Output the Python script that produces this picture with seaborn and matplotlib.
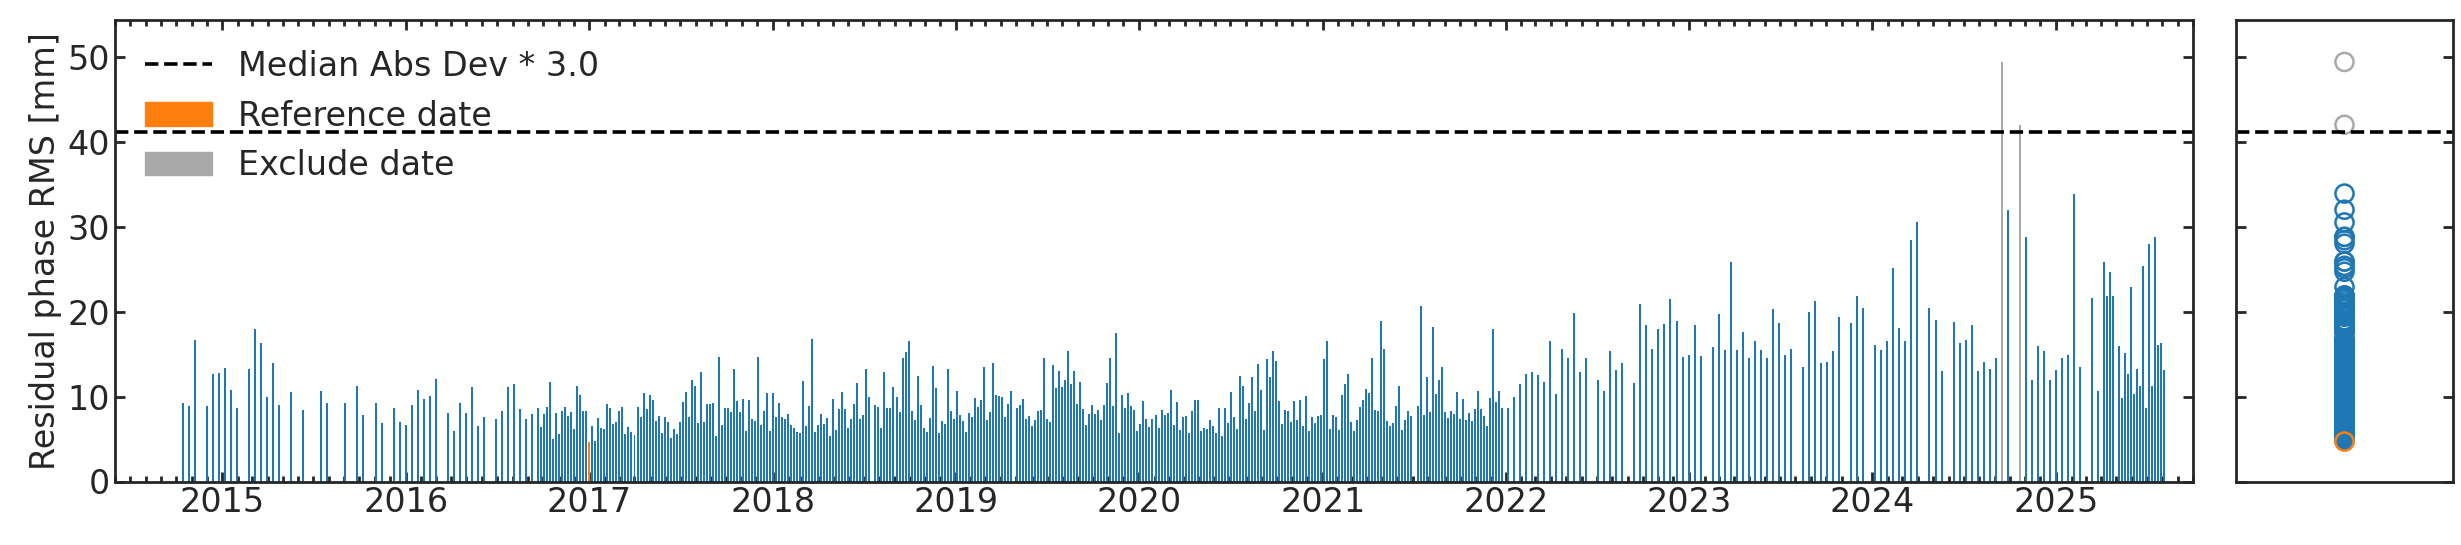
import numpy as np
import pandas as pd
import seaborn as sns
import matplotlib
matplotlib.use("Agg")
import matplotlib.pyplot as plt
import matplotlib.dates as mdates
from matplotlib.lines import Line2D
from matplotlib.patches import Patch

# acquisitions are counted in 6-day repeat cycles from the first date
first_date = "2014-10-14"
ref_date = "2017-01-01"
threshold = 41.2  # median abs dev * 3.0 cutoff [mm]

# S1A only, 12/24-day sampling
early_cycle = [0, 2, 4, 8, 10, 12, 14, 16, 18, 22, 24, 26, 28, 30, 32, 36, 40, 46, 48, 54,
               58, 60, 64, 66, 70, 72, 74, 76, 78, 80, 82, 84, 88, 90, 92, 94, 96, 98, 100, 104,
               106, 108, 110, 112, 114, 116, 118]
early_rms = [9.2, 8.9, 16.7, 8.9, 12.6, 12.8, 13.4, 10.8, 8.6, 13.3, 18.0, 16.3, 9.9, 13.9, 9.0, 10.5,
             8.4, 10.6, 9.2, 9.3, 11.3, 7.8, 9.2, 6.9, 8.6, 7.0, 6.7, 9.0, 10.8, 9.7, 10.1, 12.1,
             8.1, 6.0, 9.2, 8.1, 11.1, 6.5, 7.6, 7.4, 8.3, 11.1, 11.5, 8.5, 7.4, 7.9, 8.6]

# S1A + S1B, one acquisition per cycle starting at cycle 119 (None = missing)
dense_start = 119
dense_rms = [
    6.4, 8.0, 8.8, 11.7, 5.0, 8.1, 5.6, 8.3, 8.8, 7.7, 8.2, 6.2, 11.2, 10.2, 8.3, 8.3, 4.7, 6.5,
    4.8, 7.5, 6.3, 6.2, 9.1, 8.7, 6.8, 7.0, 8.3, 8.8, 5.6, 6.4, 5.8, 5.5, 8.8, 7.6, 10.4, 8.5,
    10.2, 9.6, 7.1, 7.7, 5.7, 7.6, 7.0, 5.1, 6.2, 5.6, 7.0, 9.4, 10.5, 7.6, 11.9, 11.3, 6.9,
    12.9, 7.0, 9.1, 9.1, 9.2, 5.3, 14.7, 6.7, 8.7, 8.7, 8.2, 13.2, 9.5, 8.2, 9.7, 6.0, 9.6, 7.4,
    7.1, 14.7, 6.7, 8.3, 10.4, 6.0, 10.4, 7.6, 9.2, 7.6, 7.4, 8.0, 6.7, 6.3, 5.8, 5.7, 11.8, 6.5,
    8.9, 16.8, 5.8, 6.7, 8.0, 6.8, 7.5, 5.4, 9.7, 6.1, 8.5, 10.5, 8.5, 6.3, 7.4, 9.1, 11.6,
    7.4, 7.8, 13.2, 9.9, None, 9.0, 8.8, 6.3, 12.9, 8.7, 8.7, 11.1, 9.9, 8.2, 14.5, 15.2, 16.5,
    8.3, 7.3, 12.4, 9.0, 6.3, 5.8, 7.5, 13.6, 11.0, 5.7, 7.1, 6.8, 13.3, 8.3, 7.4, 10.6, 7.8,
    7.1, 5.8, 8.1, 7.6, 9.8, 8.8, 9.6, 13.5, 7.3, 8.2, 13.9, 10.2, 10.1, 9.9, 7.6, 9.1, 10.6,
    None, 8.7,
    9.0, 9.7, 7.4, 7.7, 6.5, 7.3, 8.3, 8.4, 14.5, 7.4, 7.0, 13.7, 11.0, 13.0, 11.1, 11.9, 15.4,
    11.5, 13.0, 9.1, 11.7, 8.5, 6.7, 8.0, 9.0, 8.0, 8.4, 7.3, 9.0, 11.6, 14.5, 8.9, 17.5, 5.7,
    10.2, 8.7, 10.4, 8.9, 8.4, 6.0, 6.8, 9.5, 7.4, 6.4, 7.4, 7.8, 6.3, 8.4, 7.8, 8.1, 10.8, 6.7,
    9.4, 6.1,
    7.6, 7.7, 5.7, 8.3, 9.6, 9.6, 6.0, 6.3, 6.2, 7.3, 6.5, 5.7, 8.7, 5.4, 8.7, 6.9, 10.5, 7.6,
    6.2, 12.4, 11.3, 7.4, 9.2, 12.3, 8.3, 13.8, 10.8, 6.1, 14.4, 12.3, 15.4, 14.2, 9.5, 6.8, 8.4,
    8.3, 7.0, 9.5, 7.3, 9.6, 6.5, 10.1, 6.0, 7.6, 6.9, 7.7, 7.8, 14.4, 16.6, 6.2, 7.8, 7.6, 6.1,
    10.2, 11.5, 12.7, 7.0, 6.0, 7.3, 8.8, 9.6, 10.9, 10.4, 14.5, 8.4, 8.3, 18.9, 15.6, 7.1, 6.5,
    6.9, 8.9, 11.3, 6.1, 7.3, 8.3, 7.7, None, 8.9, 20.7, 7.8, 12.3, 8.2, 18.2, 10.3, 12.0, 13.5,
    8.2, 7.5, 8.3, 8.0, 10.5, 7.4, 9.7, 7.3, 8.1, 7.1, 8.5, 10.6, 8.5, 7.7, 6.5, 9.8, 18.0, 9.4,
    10.6,
]

# after S1B loss: 12-day, then S1C from spring 2025
late_cycle = [438, 440, 442, 444, 446, 448, 450, 452, 454, 456, 458, 460, 462, 464, 466,
              470, 472, 474, 476, 478,
              482, 484, 486, 488, 490, 492, 494, 496, 498, 500, 502, 504,
              508, 510, 512, 514, 516, 518, 520, 522, 524, 526, 528, 530, 532, 534,
              538, 540, 542, 544, 546, 548, 550,
              554, 556, 558,
              562, 564, 566, 568, 570, 572, 574, 576,
              580, 582, 584,
              588, 590, 592, 594, 596, 598, 600, 602, 604, 606,
              610, 612, 614, 616, 618, 620, 622, 624, 626, 628, 630,
              634, 636,
              638, 639, 640, 641,
              643, 644, 645, 646, 647, 648, 649, 650, 651, 652, 653, 654, 655, 656, 657, 658]
late_rms = [8.7, 8.6, 9.9, 11.5, 12.6, 12.9, 12.5, 11.7, 16.5, 10.3, 15.6, 14.5, 19.8, 12.9, 14.6,
            11.9, 10.7, 15.4, 13.1, 13.9,
            11.6, 20.9, 18.4, 15.6, 17.9, 18.6, 21.5, 18.9, 14.7, 14.9, 18.4, 14.8,
            15.8, 19.7, 15.5, 25.9, 15.5, 17.6, 14.5, 16.6, 15.5, 14.5, 20.3, 18.7, 14.9, 15.6,
            13.5, 20.0, 21.2, 13.9, 14.1, 15.4, 19.4,
            18.7, 21.9, 20.4,
            16.1, 15.5, 16.5, 25.1, 18.1, 16.6, 28.4, 30.5,
            20.4, 19.0, 13.0,
            18.8, 16.3, 16.7, 18.4, 13.0, 14.1, 13.2, 14.5, 49.4, 32.0,
            42.0, 28.8, 11.9, 15.9, 15.4, 11.9, 13.1, 14.6, 14.9, 33.9, 13.5,
            21.6, 10.7,
            25.9, 21.8, 24.7, 21.9,
            16.0, 9.8, 15.1, 12.6, 22.9, 10.3, 13.2, 11.3, 25.4, 8.6, 28.0, 11.2, 28.8, 16.1, 16.3, 13.1]

sns.set_style("ticks")
plt.rcParams["font.family"] = ["DejaVu Sans"]
plt.rcParams["font.size"] = 24

cycles = early_cycle + [dense_start + i for i, v in enumerate(dense_rms) if v is not None] + late_cycle
rms = early_rms + [v for v in dense_rms if v is not None] + late_rms
df = pd.DataFrame({"cycle": cycles, "rms": rms})
df["date"] = pd.Timestamp(first_date) + pd.to_timedelta(df["cycle"] * 6, unit="D")
df["kind"] = "keep"
df.loc[df["rms"] > threshold, "kind"] = "exclude"
df.loc[df["date"] == pd.Timestamp(ref_date), "kind"] = "reference"

colors = {"keep": "#1f77b4", "reference": "#ff7f0e", "exclude": "darkgray"}

W, H = 2461, 545
fig = plt.figure(figsize=(W / 100, H / 100), dpi=100)
bot, top = 1 - 481.5 / H, 1 - 20 / H
ax = fig.add_axes([115 / W, bot, (2193 - 115) / W, top - bot])
ax2 = fig.add_axes([2236 / W, bot, (2453 - 2236) / W, top - bot])

for kind in ["keep", "reference", "exclude"]:
    sub = df[df["kind"] == kind]
    ax.bar(sub["date"], sub["rms"], width=3.98, color=colors[kind], linewidth=0)
ax.axhline(threshold, color="k", ls="--", lw=2.6)

ymax = df["rms"].max() * 1.1
ax.set_ylim(0, ymax)
ax.set_xlim(pd.Timestamp("2014-06-01"), pd.Timestamp("2025-10-01"))
ax.xaxis.set_major_locator(mdates.YearLocator())
ax.xaxis.set_minor_locator(mdates.MonthLocator())
ax.xaxis.set_major_formatter(mdates.DateFormatter("%Y"))
ax.set_yticks([0, 10, 20, 30, 40, 50])
ax.set_ylabel("Residual phase RMS [mm]")

handles = [Line2D([], [], color="k", ls="--", lw=2.6, label="Median Abs Dev * 3.0"),
           Patch(color=colors["reference"], label="Reference date"),
           Patch(color=colors["exclude"], label="Exclude date")]
ax.legend(handles=handles, loc="upper left", frameon=False)

# distribution panel
for kind in ["keep", "reference", "exclude"]:
    sub = df[df["kind"] == kind]
    sns.scatterplot(x=np.zeros(len(sub)), y=sub["rms"].values, ax=ax2, s=170,
                    facecolor="none", edgecolor=colors[kind], linewidth=1.8, legend=False)
ax2.axhline(threshold, color="k", ls="--", lw=2.6)
ax2.set_ylim(0, ymax)
ax2.set_xlim(-1, 1)
ax2.set_xticks([])
ax2.set_yticks([0, 10, 20, 30, 40, 50])
ax2.tick_params(labelleft=False)

for a in (ax, ax2):
    a.tick_params(which="both", direction="in", top=True, right=True, width=2)
    a.tick_params(which="major", length=7.2)
    a.tick_params(which="minor", length=4.3)
    for s in a.spines.values():
        s.set_linewidth(2)
ax2.tick_params(top=False, bottom=False)

fig.savefig("out.png", dpi=100)
